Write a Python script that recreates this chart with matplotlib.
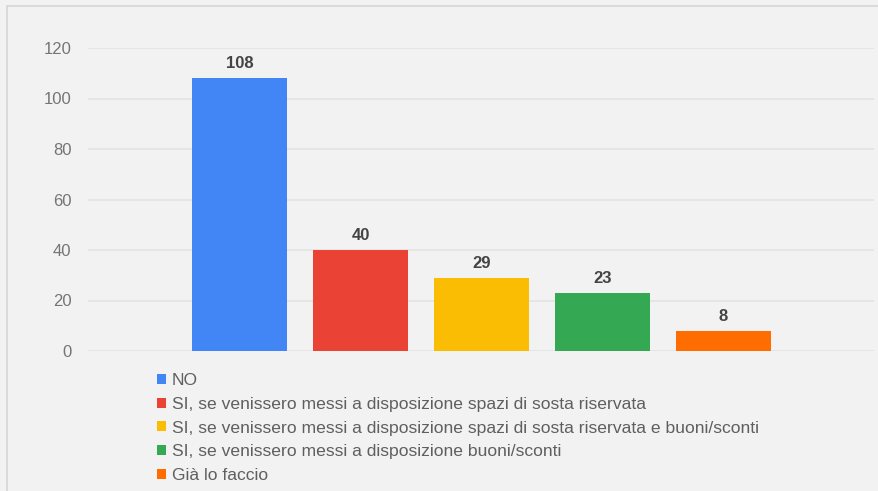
import matplotlib
matplotlib.use("Agg")
import matplotlib.pyplot as plt
from matplotlib.patches import Rectangle

plt.rcParams['font.family'] = ['Liberation Sans', 'DejaVu Sans']

series = [
    "NO",
    "SI, se venissero messi a disposizione spazi di sosta riservata",
    "SI, se venissero messi a disposizione spazi di sosta riservata e buoni/sconti",
    "SI, se venissero messi a disposizione buoni/sconti",
    "Già lo faccio",
]
values = [108, 40, 29, 23, 8]
colors = ["#4285f4", "#ea4335", "#fbbc04", "#34a853", "#ff6d01"]
yticks = [0, 20, 40, 60, 80, 100, 120]

W, H = 879, 491
fig = plt.figure(figsize=(W / 100, H / 100), dpi=100)
fig.patch.set_facecolor("#f2f2f2")

# outer card border
fig.patches.append(Rectangle((7 / W, -0.1), 1.2, 1 - 6 / H + 0.1, transform=fig.transFigure,
                             fill=False, edgecolor="#d6d6d6", linewidth=1.2, zorder=0))

ax = fig.add_axes([88 / W, 1 - 351 / H, (874 - 88) / W, (351 - 48) / H])
ax.set_facecolor("#f2f2f2")

positions = list(range(len(values)))
bars = ax.bar(positions, values, width=95 / 121, color=colors, label=series, zorder=3)
for rect, v in zip(bars, values):
    ax.annotate(str(v), (rect.get_x() + rect.get_width() / 2, v), xytext=(0, 5),
                textcoords="offset points", ha="center", va="bottom",
                fontsize=12, fontweight="bold", color="#444444")

ax.set_xlim(-1.252, 5.244)
ax.set_ylim(0, 120)
ax.set_yticks(yticks)
ax.set_yticklabels([str(t) for t in yticks], fontsize=12, color="#757575")
ax.set_xticks([])
ax.tick_params(axis="y", length=0, pad=12)
ax.grid(axis="y", color="#e3e3e3", linewidth=1.2, zorder=0)
for s in ax.spines.values():
    s.set_visible(False)

leg = fig.legend(handles=bars, labels=series, loc="upper left",
                 bbox_to_anchor=(157 / W, 1 - 373 / H), frameon=False,
                 fontsize=12.6, labelcolor="#5f5f5f", handlelength=0.5, handleheight=0.5,
                 handletextpad=0.35, labelspacing=0.5, borderpad=0, borderaxespad=0)

fig.savefig("out.png", dpi=100, facecolor=fig.get_facecolor())
